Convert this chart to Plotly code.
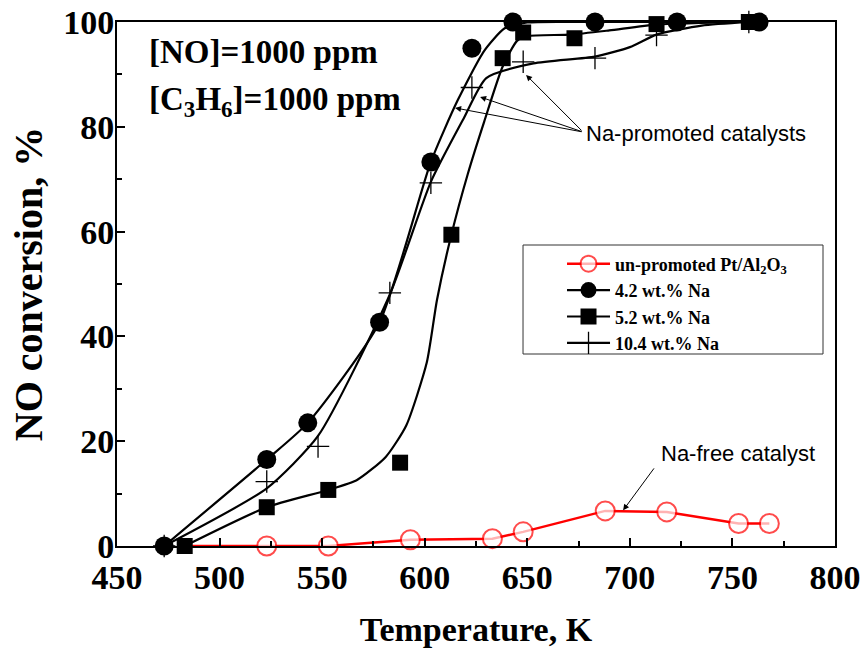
import plotly.graph_objects as go

# ---------------- data ----------------
# un-promoted Pt/Al2O3
red_T = [483, 523, 553, 593, 633, 648, 688, 718, 753, 768]
red_Y = [0, 0, 0, 1.2, 1.4, 2.7, 6.7, 6.5, 4.3, 4.3]

# 4.2 wt.% Na (measured points)
na42_T = [473, 523, 543, 578, 603, 623, 643, 683, 723, 763]
na42_Y = [0, 16.5, 23.5, 42.7, 73.3, 95, 100, 100, 100, 100]
# 4.2 wt.% Na fitted curve
na42_fit_T = [473, 523, 543, 578, 603, 616, 629, 639, 650, 683, 763]
na42_fit_Y = [0, 16.5, 23.5, 42.7, 73.3, 85, 94.5, 98.8, 99.9, 100, 100]

# 5.2 wt.% Na (measured points)
na52_T = [483, 523, 553, 588, 613, 638, 648, 673, 713, 758]
na52_Y = [0, 7.4, 10.7, 15.9, 59.4, 93.1, 98, 96.9, 99.6, 100]
# 5.2 wt.% Na fitted curve
na52_fit_T = [483, 523, 553, 567, 581, 591, 601, 606, 613, 621, 629, 638, 645, 650, 671, 690, 713, 758]
na52_fit_Y = [0, 7.4, 10.7, 12.6, 17, 23, 35, 47, 59.4, 71, 81, 91.5, 96.4, 97.3, 97.6, 98.4, 99.5, 100]

# 10.4 wt.% Na (measured points)
na104_T = [473, 523, 548, 583, 603, 623, 648, 683, 713, 758]
na104_Y = [0, 12.3, 19, 48.3, 69.3, 87.5, 92.4, 93.1, 97.5, 100]
# 10.4 wt.% Na fitted curve
na104_fit_T = [473, 523, 548, 583, 603, 619, 630, 653, 683, 700, 713, 735, 758]
na104_fit_Y = [0, 11, 21, 48, 69.5, 81.6, 89.3, 92.1, 93.4, 95.2, 97.6, 99.3, 100]

x_ticks = [450, 500, 550, 600, 650, 700, 750, 800]
y_ticks = [0, 20, 40, 60, 80, 100]

SERIF = "Liberation Serif, Times New Roman, serif"
SANS = "Liberation Sans, Arial, sans-serif"

fig = go.Figure()

# red series (first point only carries the line, its marker is hidden under the black ones)
red_sizes = [0] + [19] * (len(red_T) - 1)
fig.add_trace(go.Scatter(
    x=red_T, y=red_Y, mode="lines+markers",
    name="un-promoted Pt/Al<sub>2</sub>O<sub>3</sub>",
    line=dict(color="#ff0000", width=2.5),
    marker=dict(symbol="circle", size=red_sizes, color="white",
                line=dict(color="#ff0000", width=2)),
    cliponaxis=False,
))

def black_series(name, fit_T, fit_Y, T, Y, marker):
    fig.add_trace(go.Scatter(
        x=fit_T, y=fit_Y, mode="lines",
        line=dict(color="black", width=2.2, shape="spline", smoothing=0.6),
        showlegend=False, hoverinfo="skip"))
    fig.add_trace(go.Scatter(
        x=T, y=Y, mode="markers", marker=marker, showlegend=False,
        cliponaxis=False))
    fig.add_trace(go.Scatter(
        x=[None], y=[None], mode="lines+markers", name=name,
        line=dict(color="black", width=2.2), marker=marker))

black_series("4.2 wt.% Na", na42_fit_T, na42_fit_Y, na42_T, na42_Y,
             dict(symbol="circle", size=19, color="black"))
black_series("5.2 wt.% Na", na52_fit_T, na52_fit_Y, na52_T, na52_Y,
             dict(symbol="square", size=16, color="black"))
black_series("10.4 wt.% Na", na104_fit_T, na104_fit_Y, na104_T, na104_Y,
             dict(symbol="cross-thin", size=16, color="black",
                  line=dict(color="black", width=1.3)))

axis_common = dict(
    showline=True, linecolor="black", linewidth=2, mirror=True,
    ticks="inside", ticklen=8, tickwidth=2, tickcolor="black",
    showgrid=False, zeroline=False, automargin=False,
    tickfont=dict(family=SERIF, size=34, color="black", weight="bold"),
)

fig.update_xaxes(
    range=[450, 800], tickvals=x_ticks,
    minor=dict(ticks="inside", ticklen=5, tickwidth=1.5, tickcolor="black", dtick=25, tick0=450),
    title=dict(text="Temperature, K", standoff=22,
               font=dict(family=SERIF, size=34, color="black", weight="bold")),
    **axis_common)
fig.update_yaxes(
    range=[0, 100], tickvals=y_ticks, ticklabelstandoff=-6,
    minor=dict(ticks="inside", ticklen=5, tickwidth=1.5, tickcolor="black", dtick=10, tick0=0),
    title=dict(text="NO conversion, %", standoff=8,
               font=dict(family=SERIF, size=40, color="black", weight="bold")),
    **axis_common)

# text annotations
fig.add_annotation(x=464.6, y=94.3, xref="x", yref="y", text="[NO]=1000 ppm",
                   showarrow=False, xanchor="left", yanchor="middle",
                   font=dict(family=SERIF, size=33, color="black", weight="bold"))
fig.add_annotation(x=464.6, y=84.8, xref="x", yref="y",
                   text="[C<sub>3</sub>H<sub>6</sub>]=1000 ppm",
                   showarrow=False, xanchor="left", yanchor="middle",
                   font=dict(family=SERIF, size=33, color="black", weight="bold"))

fig.add_annotation(x=677.5, y=78.8, xref="x", yref="y", text="Na-promoted catalysts",
                   showarrow=False, xanchor="left", yanchor="middle",
                   font=dict(family=SANS, size=22, color="black"))
for hx, hy in [(649.4, 89.9), (627.0, 85.7), (614.8, 83.6)]:
    fig.add_annotation(x=hx, y=hy, xref="x", yref="y", ax=677.2, ay=79.0,
                       axref="x", ayref="y", text="", showarrow=True,
                       arrowhead=2, arrowsize=1.2, arrowwidth=1, arrowcolor="black")

fig.add_annotation(x=714.0, y=17.7, xref="x", yref="y", text="Na-free catalyst",
                   showarrow=False, xanchor="left", yanchor="middle",
                   font=dict(family=SANS, size=22, color="black"))
fig.add_annotation(x=696.7, y=6.8, xref="x", yref="y", ax=712.3, ay=15.1,
                   axref="x", ayref="y", text="", showarrow=True,
                   arrowhead=2, arrowsize=1.2, arrowwidth=1, arrowcolor="black")

# legend frame
fig.add_shape(type="rect", xref="paper", yref="paper",
              x0=0.5655, x1=0.9833, y0=0.3664, y1=0.5744,
              line=dict(color="#333333", width=1), fillcolor="rgba(0,0,0,0)",
              layer="above")

fig.update_layout(
    width=863, height=658,
    margin=dict(l=117, r=28, t=22, b=112),
    paper_bgcolor="white", plot_bgcolor="white",
    legend=dict(x=0.6198, y=0.5735, xanchor="left", yanchor="top",
                bgcolor="rgba(0,0,0,0)", borderwidth=0,
                font=dict(family=SERIF, size=18, color="black", weight="bold"),
                itemwidth=43, tracegroupgap=0),
    showlegend=True,
)

fig.write_html("out.html")
